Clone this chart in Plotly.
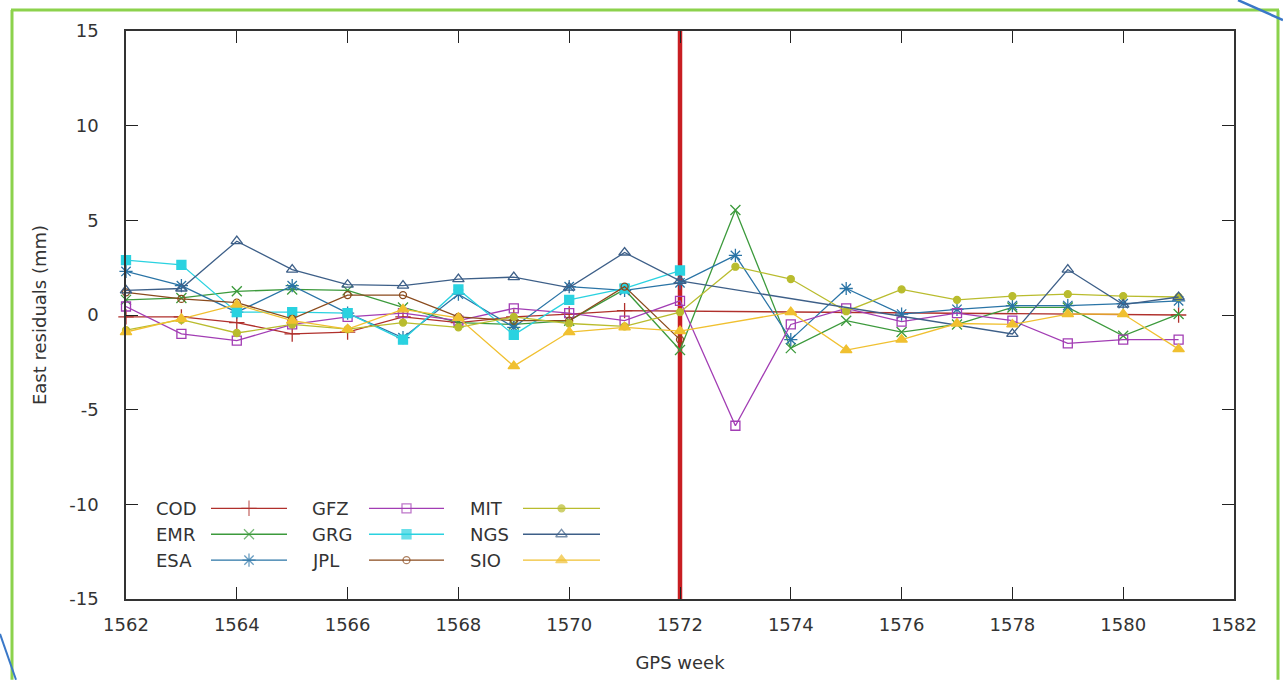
import plotly.graph_objects as go

# GPS weeks and east residuals (mm) per analysis centre; None = no solution that week
weeks = list(range(1562, 1582))

cod = [-0.1, -0.1, -0.4, -1.0, -0.9, -0.1, -0.4, -0.1, 0.05, 0.23,
       None, None, None, None, None, None, None, None, None, 0.0]
emr = [0.8, 0.9, 1.25, 1.35, 1.3, 0.4, -0.4, -0.5, -0.3, 1.35,
       -1.85, 5.55, -1.75, -0.3, -0.9, -0.5, 0.4, 0.4, -1.1, 0.05]
esa = [2.3, 1.55, 0.15, 1.55, 0.1, -1.2, 1.1, -0.65, 1.5, 1.3,
       1.7, 3.15, -1.3, 1.4, 0.05, 0.3, 0.5, 0.5, 0.6, 0.75]
gfz = [0.45, -1.0, -1.35, -0.5, -0.1, 0.1, -0.3, 0.35, 0.1, -0.3,
       0.75, -5.85, -0.5, 0.35, -0.35, 0.1, -0.3, -1.5, -1.3, -1.3]
grg = [2.9, 2.65, 0.15, 0.15, 0.1, -1.3, 1.35, -1.05, 0.8, 1.4,
       2.35, None, None, None, None, None, None, None, None, None]
jpl = [1.2, 0.85, 0.65, -0.2, 1.05, 1.05, -0.1, -0.3, -0.3, 1.5,
       -1.3, None, None, None, None, None, None, None, None, None]
mit = [-0.8, -0.25, -0.95, -0.5, -0.75, -0.4, -0.65, -0.1, -0.45, -0.6,
       0.15, 2.55, 1.9, 0.2, 1.35, 0.8, 1.0, 1.1, 1.0, 0.95]
ngs = [1.3, 1.4, 3.9, 2.4, 1.6, 1.55, 1.9, 2.0, 1.45, 3.3,
       1.8, None, None, None, None, None, -1.0, 2.4, 0.55, 0.95]
sio = [-0.9, -0.2, 0.55, -0.3, -0.75, 0.3, -0.15, -2.7, -0.9, -0.65,
       -0.85, None, 0.15, -1.85, -1.3, -0.45, -0.5, 0.05, 0.05, -1.8]

names = ["COD", "EMR", "ESA", "GFZ", "GRG", "JPL", "MIT", "NGS", "SIO"]
series = [cod, emr, esa, gfz, grg, jpl, mit, ngs, sio]
colors = ["#b0302c", "#3c9a3c", "#2a74a6", "#a23db4", "#2ad2e0",
          "#8a4a1c", "#b9bc2e", "#3d5f88", "#f0c030"]
symbols = ["cross-thin-open", "x-thin-open", "asterisk-open", "square-open",
           "square", "circle-open", "circle", "triangle-up-open", "triangle-up"]
sizes = [11, 10, 11, 9, 9, 7, 7, 10, 10]

highlight_week = 1572
x_ticks = list(range(1562, 1583, 2))
y_ticks = [-15, -10, -5, 0, 5, 10, 15]
y_tick_text = ["-15", "-10", "-5", "0", "5", "10", "15"]

W, H = 1283, 682
L, R, T, B = 126, 1234, 31, 601  # plot area in pixels


def px(x):
    return (x - L) / (R - L)


def py(y):
    return (B - y) / (B - T)


fig = go.Figure()

for name, vals, col, sym, sz in zip(names, series, colors, symbols, sizes):
    fig.add_trace(go.Scatter(
        x=weeks, y=vals, name=name, mode="lines+markers", connectgaps=True,
        line=dict(color=col, width=1.3),
        marker=dict(symbol=sym, size=sz, color=col,
                    line=dict(color=col, width=1.3)),
        showlegend=False, cliponaxis=False,
    ))

# key in three columns, label on the left and sample on the right
text_x = [154, 310, 468]
line_x = [(211, 287), (369, 444), (523, 600)]
row_y = [510, 536, 562]
for i, (name, col, sym, sz) in enumerate(zip(names, colors, symbols, sizes)):
    c, r = divmod(i, 3)
    x0, x1 = line_x[c]
    fig.add_trace(go.Scatter(
        x=[x0, (x0 + x1) / 2, x1], y=[row_y[r]] * 3, xaxis="x2", yaxis="y2",
        mode="lines+markers", line=dict(color=col, width=1.3),
        marker=dict(symbol=sym, size=[0, sz, 0], color=col,
                    line=dict(color=col, width=1.3)),
        showlegend=False, hoverinfo="skip", cliponaxis=False,
    ))
    fig.add_annotation(x=text_x[c], y=row_y[r], xref="x2", yref="y2",
                       text=name, showarrow=False, xanchor="left",
                       font=dict(family="DejaVu Sans", size=18, color="#333333"))

shapes = [
    dict(type="line", xref="x", yref="paper", x0=highlight_week, x1=highlight_week,
         y0=0, y1=1, line=dict(color="#c81e22", width=4.5), layer="below"),
    # green picture frame
    dict(type="line", xref="paper", yref="paper", x0=px(11), x1=px(1279),
         y0=py(10), y1=py(10), line=dict(color="#8cd24c", width=3)),
    dict(type="line", xref="paper", yref="paper", x0=px(12), x1=px(12),
         y0=py(10), y1=py(682), line=dict(color="#8cd24c", width=3)),
    dict(type="line", xref="paper", yref="paper", x0=px(1278), x1=px(1278),
         y0=py(10), y1=py(682), line=dict(color="#8cd24c", width=3)),
    # blue corner strokes
    dict(type="line", xref="paper", yref="paper", x0=px(1238), x1=px(1283),
         y0=py(0), y1=py(20), line=dict(color="#3a78c8", width=2.5)),
    dict(type="line", xref="paper", yref="paper", x0=px(0), x1=px(16),
         y0=py(636), y1=py(682), line=dict(color="#3a78c8", width=2)),
]

axis_font = dict(family="DejaVu Sans", size=18, color="#333333")

fig.update_layout(
    width=W, height=H,
    margin=dict(l=L, r=W - R, t=T, b=H - B),
    paper_bgcolor="white", plot_bgcolor="white",
    shapes=shapes,
    xaxis=dict(range=[1562, 1582], tickvals=x_ticks, ticks="inside", ticklen=12,
               tickwidth=1.3, tickcolor="#222222", showline=True, linecolor="#333333",
               linewidth=1.5, mirror="ticks", showgrid=False, zeroline=False,
               tickfont=axis_font, ticklabelstandoff=9,
               title=dict(text="GPS week", font=axis_font, standoff=22)),
    yaxis=dict(range=[-15, 15], tickvals=y_ticks, ticktext=y_tick_text,
               ticks="inside", ticklen=12,
               tickwidth=1.3, tickcolor="#222222", showline=True, linecolor="#333333",
               linewidth=1.5, mirror="ticks", showgrid=False, zeroline=False,
               tickfont=axis_font, ticklabelstandoff=22,
               title=dict(text="East residuals (mm)", font=axis_font, standoff=18)),
    xaxis2=dict(range=[L, R], overlaying="x", visible=False, fixedrange=True),
    yaxis2=dict(range=[B, T], overlaying="y", visible=False, fixedrange=True),
)

fig.write_html("out.html")
